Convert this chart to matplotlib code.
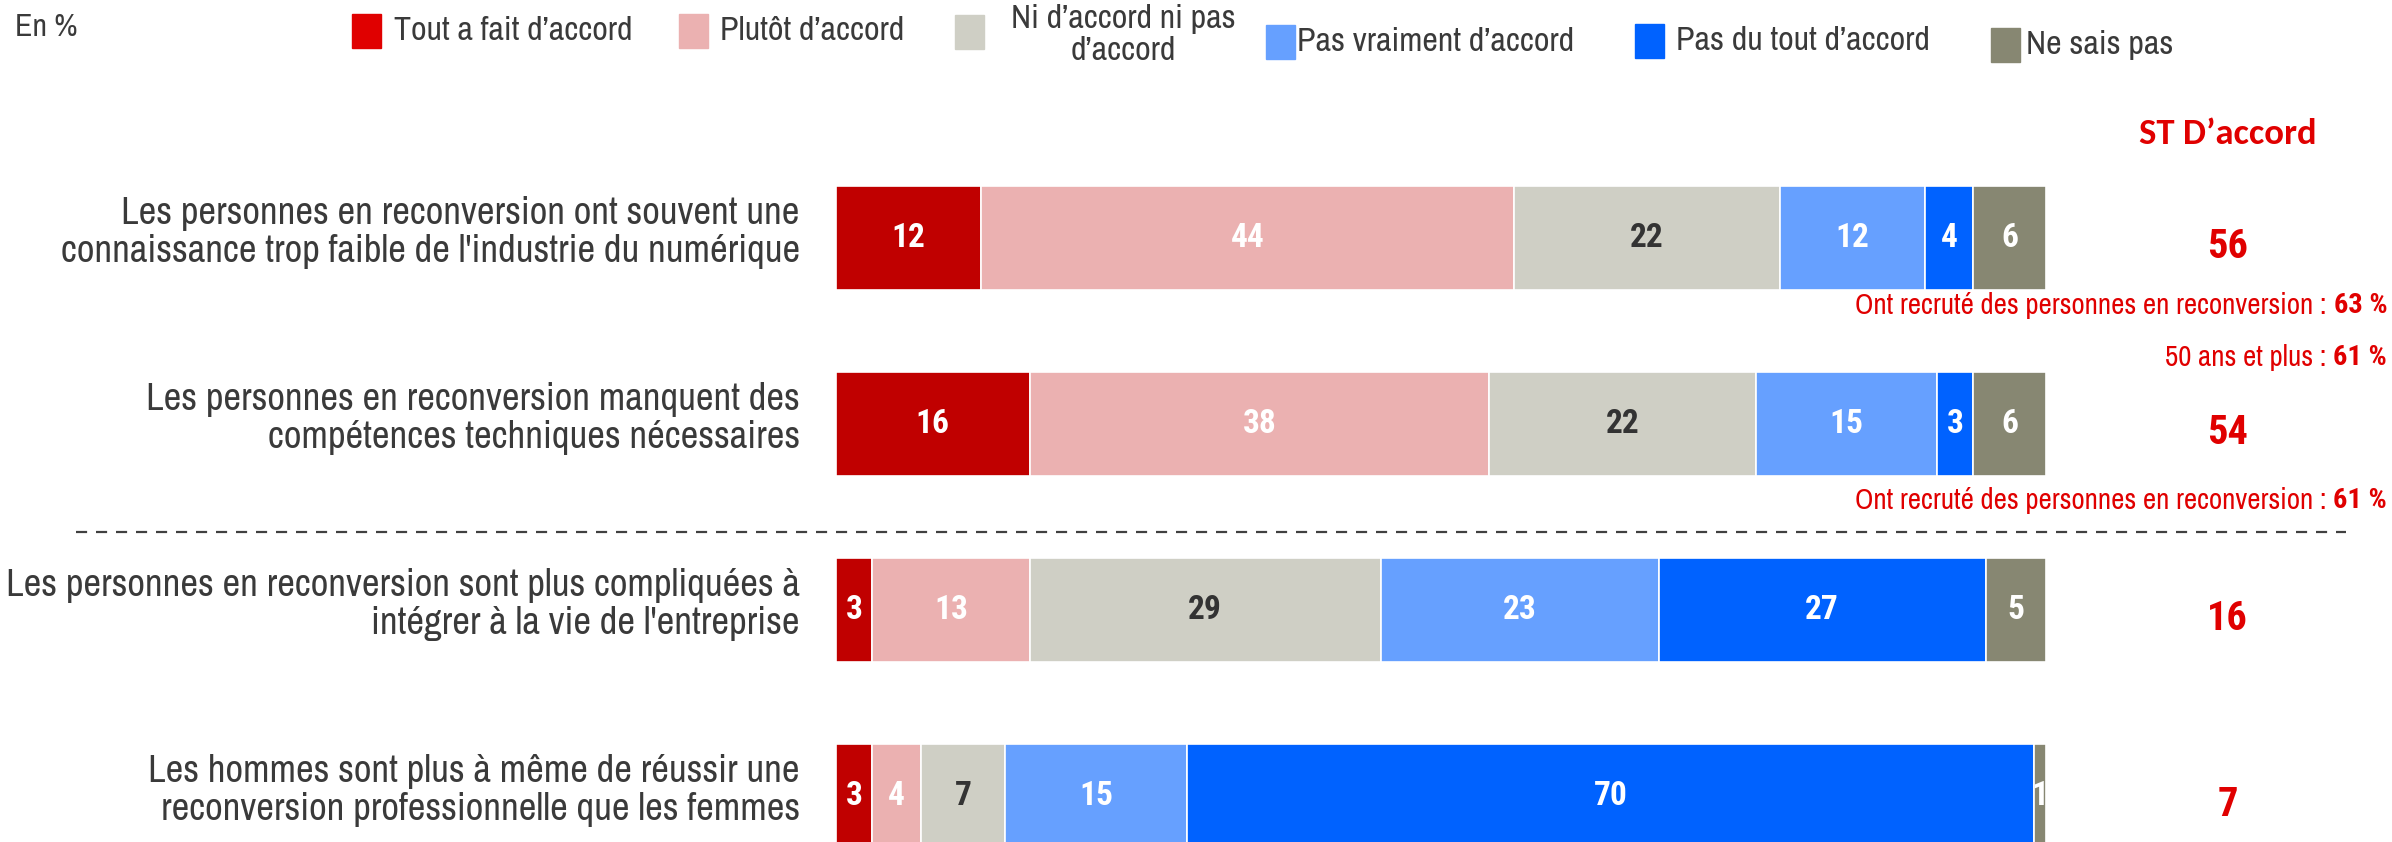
import matplotlib
matplotlib.use("Agg")
import matplotlib.pyplot as plt
from matplotlib.lines import Line2D
from matplotlib.patches import Rectangle

BODY = ['Archivo Narrow', 'Liberation Sans', 'DejaVu Sans']
BOLD = ['Roboto Condensed', 'Liberation Sans', 'DejaVu Sans']
plt.rcParams['font.family'] = BODY

# ---- data ----
statements = [
    "Les personnes en reconversion ont souvent une\nconnaissance trop faible de l'industrie du numérique",
    "Les personnes en reconversion manquent des\ncompétences techniques nécessaires",
    "Les personnes en reconversion sont plus compliquées à\nintégrer à la vie de l'entreprise",
    "Les hommes sont plus à même de réussir une\nreconversion professionnelle que les femmes",
]
categories = ["Tout a fait d’accord", "Plutôt d’accord", "Ni d’accord ni pas\nd’accord",
              "Pas vraiment d’accord", "Pas du tout d’accord", "Ne sais pas"]
tout_a_fait = [12, 16, 3, 3]
plutot = [44, 38, 13, 4]
ni_ni = [22, 22, 29, 7]
pas_vraiment = [12, 15, 23, 15]
pas_du_tout = [4, 3, 27, 70]
ne_sais_pas = [6, 6, 5, 1]
st_daccord = [56, 54, 16, 7]
notes = [
    (0, "Ont recruté des personnes en reconversion : ", "63 %"),
    (1, "50 ans et plus : ", "61 %"),
    (1, "Ont recruté des personnes en reconversion : ", "61 %"),
]

series = [tout_a_fait, plutot, ni_ni, pas_vraiment, pas_du_tout, ne_sais_pas]
bar_colors = ["#c00000", "#ebb1b1", "#cfcfc5", "#66a0ff", "#0062ff", "#878772"]
legend_colors = ["#e00000", "#ebb1b1", "#cfcfc5", "#66a0ff", "#0062ff", "#878772"]
text_colors = ["white", "white", "#333333", "white", "white", "white"]

W, H = 2392, 842
fig = plt.figure(figsize=(W / 100, H / 100), dpi=100)
ax = fig.add_axes([836 / W, 0, 1210 / W, 1])
ax.set_xlim(0, 100)
ax.set_ylim(3.247, -1.28)
ax.axis('off')

ypos = list(range(len(statements)))
left = [0] * len(statements)
for vals, col, tcol in zip(series, bar_colors, text_colors):
    ax.barh(ypos, vals, left=left, height=0.56, color=col, edgecolor='white', linewidth=1.2)
    for y, v, l in zip(ypos, vals, left):
        ax.text(l + v / 2, y, str(v), ha='center', va='center', color=tcol,
                fontsize=24, fontweight='bold', family=BOLD)
    left = [a + b for a, b in zip(left, vals)]

for y, s in zip(ypos, statements):
    ax.text(-3, y - 0.03, s, ha='right', va='center', fontsize=27.8, color='#3a3a3a',
            linespacing=1.08)

# ST D'accord column
ax.text(115, -0.56, "ST D’accord", ha='center', va='center', fontsize=26.4,
        fontweight='bold', color='#e00000', family=['Carlito', 'Liberation Sans', 'DejaVu Sans'])
for y, v in zip(ypos, st_daccord):
    ax.text(115, y + 0.05, str(v), ha='center', va='center', fontsize=29,
            fontweight='bold', color='#e00000', family=BOLD)

note_y = [0.36, 0.64, 1.41]
fig.canvas.draw()
for (row, txt, val), ny in zip(notes, note_y):
    t = ax.text(128.2, ny, val, ha='right', va='center', fontsize=20.5,
                fontweight='bold', color='#e00000', clip_on=False, family=BOLD)
    bb = t.get_window_extent(renderer=fig.canvas.get_renderer())
    x0 = ax.transData.inverted().transform((bb.x0, bb.y0))[0]
    ax.text(x0, ny, txt, ha='right', va='center', fontsize=20.8, color='#e00000')

# dashed separator
fig.add_artist(Line2D([76 / W, 2346 / W], [1 - 532 / H, 1 - 532 / H],
                      color='#404040', linestyle=(0, (5, 4)), linewidth=1.6))

# header
fig.text(15 / W, 1 - 27 / H, "En %", ha='left', va='center', fontsize=23, color='#3a3a3a')
legend_sq = [(352, 31), (679, 31), (955, 32), (1266, 42), (1635, 41), (1991, 45)]
legend_txt_x = [394, 720, 1123, 1297, 1676, 2026]
for i, (cat, col) in enumerate(zip(categories, legend_colors)):
    sx, sy = legend_sq[i]
    fig.add_artist(Rectangle((sx / W, 1 - (sy + 17) / H), 29 / W, 34 / H,
                             transform=fig.transFigure, color=col))
    if i == 2:
        fig.text(legend_txt_x[i] / W, 1 - 35 / H, cat, ha='center', va='center',
                 fontsize=24.5, color='#3a3a3a', linespacing=1.05)
    else:
        fig.text(legend_txt_x[i] / W, 1 - sy / H, cat, ha='left', va='center',
                 fontsize=24.5, color='#3a3a3a')

fig.savefig("out.png", dpi=100)
